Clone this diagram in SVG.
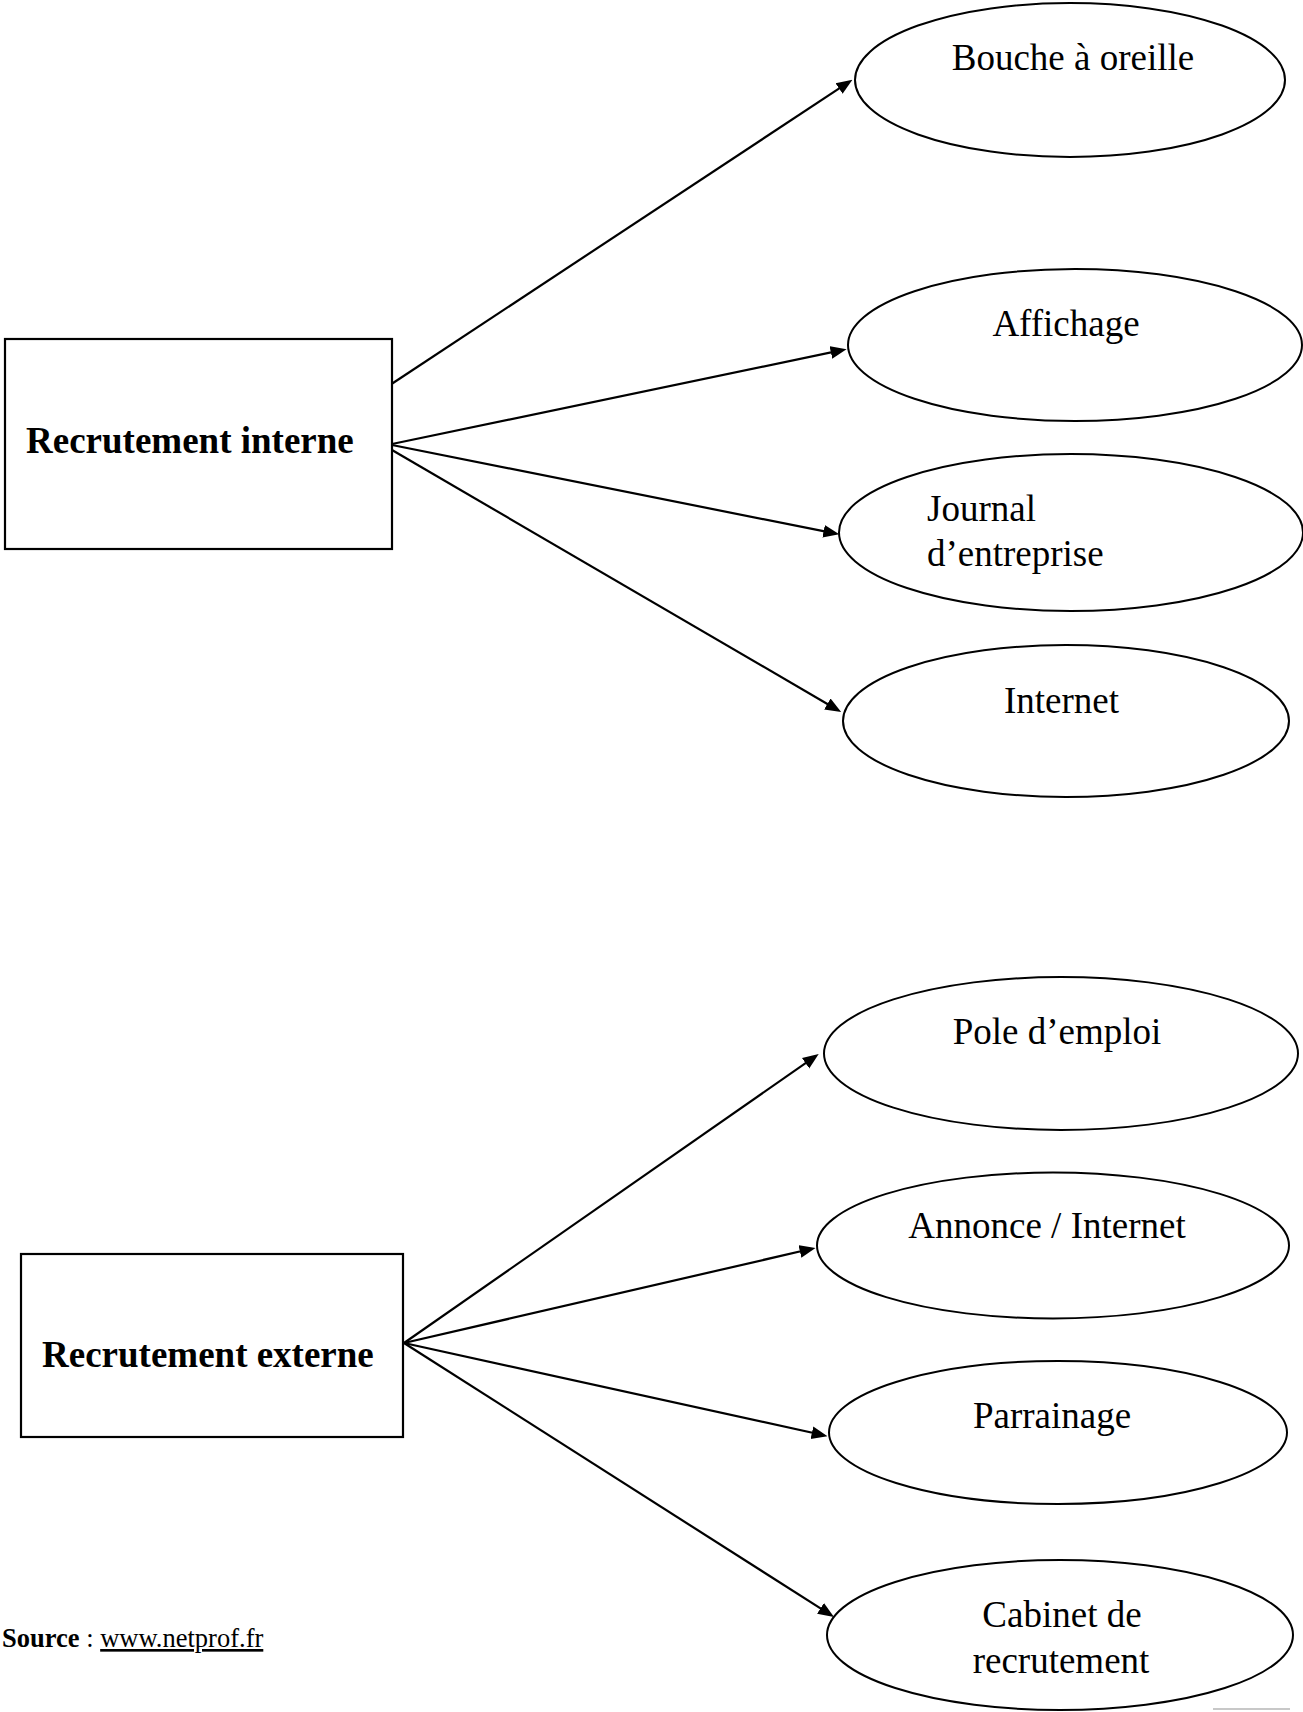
<svg xmlns="http://www.w3.org/2000/svg" width="1303" height="1712" viewBox="0 0 1303 1712">
<style>
  .box { fill: #ffffff; stroke: #000000; stroke-width: 2.2; }
  .ell { fill: #ffffff; stroke: #000000; stroke-width: 2; }
  .lbl { font-family: "Liberation Serif", "Times New Roman", serif; font-size: 37px; fill: #000000; }
  .mid { text-anchor: middle; }
  .bold { font-weight: bold; }
  .conn { stroke: #000000; stroke-width: 2.2; fill: none; marker-end: url(#arrow); }
  .src { font-family: "Liberation Serif", "Times New Roman", serif; font-size: 26.5px; fill: #000000; }
</style>
<defs>
  <marker id="arrow" markerUnits="userSpaceOnUse" markerWidth="16" markerHeight="14" viewBox="0 0 15 12" refX="7" refY="6" orient="auto">
    <path d="M0,0 L15,6 L0,12 z" fill="#000000"/>
  </marker>
</defs>
<rect width="1303" height="1712" fill="#ffffff"/>

<g id="connectors">
  <line class="conn" x1="390" y1="385" x2="845.3" y2="84.4"/>
  <line class="conn" x1="392" y1="444" x2="838.2" y2="350.9"/>
  <line class="conn" x1="392" y1="445" x2="830.9" y2="532.7"/>
  <line class="conn" x1="392" y1="450" x2="833.8" y2="707.7"/>
  <line class="conn" x1="404" y1="1343" x2="811.7" y2="1058.9"/>
  <line class="conn" x1="404" y1="1343" x2="807.2" y2="1249.8"/>
  <line class="conn" x1="404" y1="1343" x2="819.2" y2="1434.3"/>
  <line class="conn" x1="404" y1="1343" x2="826.8" y2="1612.4"/>
</g>

<g id="recrutement-interne">
  <rect class="box" x="5" y="339" width="387" height="210"/>
  <text class="lbl bold" x="26" y="453">Recrutement interne</text>
</g>
<g id="bouche-a-oreille">
  <ellipse class="ell" cx="1070" cy="80" rx="215" ry="77"/>
  <text class="lbl mid" x="1073" y="70">Bouche à oreille</text>
</g>
<g id="affichage">
  <ellipse class="ell" cx="1075" cy="345" rx="227" ry="76"/>
  <text class="lbl mid" x="1066" y="336">Affichage</text>
</g>
<g id="journal-entreprise">
  <ellipse class="ell" cx="1071" cy="532.5" rx="232" ry="78.5"/>
  <text class="lbl" x="927" y="521">Journal</text>
  <text class="lbl" x="927" y="566">d’entreprise</text>
</g>
<g id="internet">
  <ellipse class="ell" cx="1066" cy="721" rx="223" ry="76"/>
  <text class="lbl mid" x="1061.5" y="713">Internet</text>
</g>

<g id="recrutement-externe">
  <rect class="box" x="21" y="1254" width="382" height="183"/>
  <text class="lbl bold" x="42" y="1367">Recrutement externe</text>
</g>
<g id="pole-emploi">
  <ellipse class="ell" cx="1061" cy="1053.5" rx="237" ry="76.5"/>
  <text class="lbl mid" x="1057" y="1044">Pole d’emploi</text>
</g>
<g id="annonce-internet">
  <ellipse class="ell" cx="1053" cy="1245.5" rx="236" ry="73"/>
  <text class="lbl mid" x="1047" y="1238">Annonce / Internet</text>
</g>
<g id="parrainage">
  <ellipse class="ell" cx="1058" cy="1432.5" rx="229" ry="71.5"/>
  <text class="lbl mid" x="1052" y="1428">Parrainage</text>
</g>
<g id="cabinet-recrutement">
  <ellipse class="ell" cx="1060" cy="1635" rx="233" ry="75"/>
  <text class="lbl mid" x="1062" y="1627">Cabinet de</text>
  <text class="lbl mid" x="1061" y="1673">recrutement</text>
</g>

<g id="source">
  <text class="src" x="2" y="1647"><tspan font-weight="bold">Source</tspan> : <tspan text-decoration="underline">www.netprof.fr</tspan></text>
</g>
<line x1="1213" y1="1709" x2="1290" y2="1709" stroke="#c8c8c8" stroke-width="2"/>
</svg>
